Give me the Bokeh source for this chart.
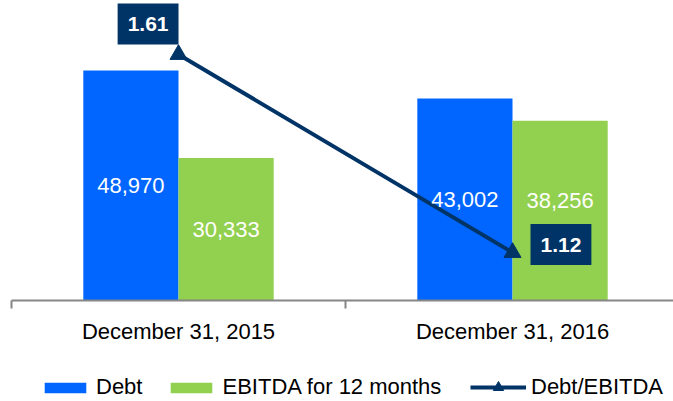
from bokeh.plotting import figure
from bokeh.layouts import column
from bokeh.models import (Range1d, FixedTicker, ColumnDataSource, LabelSet, Label,
                          Legend, LegendItem)
from bokeh.core.properties import value
from bokeh.embed import file_html
from bokeh.resources import INLINE

# ---- data ----
categories = ["December 31, 2015", "December 31, 2016"]
debt = [48970, 43002]
ebitda = [30333, 38256]
ratio = [1.61, 1.12]
debt_labels = ["48,970", "43,002"]
ebitda_labels = ["30,333", "38,256"]
ratio_labels = ["1.61", "1.12"]
series_names = ["Debt", "EBITDA for 12 months", "Debt/EBITDA"]

# ---- style ----
BLUE = "#0066FF"
GREEN = "#92D050"
NAVY = "#003366"
AXIS_GREY = "#868686"
FONT = "Liberation Sans"
FS = "22px"
BAR_W = 0.285
DODGE = 0.1425

xc = [i + 0.5 for i in range(len(categories))]
x_debt = [v - DODGE for v in xc]
x_ebit = [v + DODGE for v in xc]

src = ColumnDataSource(dict(
    xc=xc, x_debt=x_debt, x_ebit=x_ebit,
    debt=debt, ebitda=ebitda, ratio=ratio,
    debt_mid=[v / 2 for v in debt], ebit_mid=[v / 2 for v in ebitda],
    debt_lab=debt_labels, ebit_lab=ebitda_labels,
    ebit_off=[0, 10],
))

p = figure(width=673, height=360, output_backend="svg", toolbar_location=None,
           x_range=Range1d(0, 1.982), y_range=Range1d(0, 63873),
           y_axis_location=None,
           min_border_left=11, min_border_right=0, min_border_top=0,
           min_border_bottom=60)
p.extra_y_ranges = {"ratio": Range1d(1.0012, 1.7436)}
p.outline_line_color = None
p.grid.visible = False

bar_style_debt = dict(fill_color=BLUE, line_color=None)
bar_style_ebit = dict(fill_color=GREEN, line_color=None)
line_style = dict(line_color=NAVY, line_width=4)
mark_style = dict(marker="triangle", size=17, fill_color=NAVY, line_color=NAVY)

p.vbar(x="x_debt", top="debt", width=BAR_W, source=src, **bar_style_debt)
p.vbar(x="x_ebit", top="ebitda", width=BAR_W, source=src, **bar_style_ebit)
p.line(x="xc", y="ratio", source=src, y_range_name="ratio", **line_style)
p.scatter(x="xc", y="ratio", source=src, y_range_name="ratio", **mark_style)

p.add_layout(LabelSet(x="x_debt", y="debt_mid", text="debt_lab", source=src,
                      text_align="center", text_baseline="middle",
                      text_font=value(FONT), text_font_size=value(FS),
                      text_color="white"))
p.add_layout(LabelSet(x="x_ebit", y="ebit_mid", text="ebit_lab", source=src,
                      y_offset="ebit_off",
                      text_align="center", text_baseline="middle",
                      text_font=value(FONT), text_font_size=value(FS),
                      text_color="white"))

lab_style = dict(text_font=FONT, text_font_size="21px", text_font_style="bold",
                 text_color="white", background_fill_color=NAVY,
                 padding=dict(left=10, right=10, top=14, bottom=13),
                 y_range_name="ratio")
p.add_layout(Label(x=xc[0], y=ratio[0], text=ratio_labels[0],
                   text_align="right", text_baseline="bottom",
                   x_offset=0, y_offset=10, **lab_style))
p.add_layout(Label(x=xc[1], y=ratio[1], text=ratio_labels[1],
                   text_align="left", text_baseline="middle",
                   x_offset=18, y_offset=8, **lab_style))

ax = p.xaxis[0]
ax.ticker = FixedTicker(ticks=xc, minor_ticks=[0, 1, 2])
ax.major_label_overrides = {xc[i]: categories[i] for i in range(len(categories))}
ax.major_tick_line_color = None
ax.major_tick_out = 8
ax.major_tick_in = 0
ax.minor_tick_line_color = AXIS_GREY
ax.minor_tick_line_width = 2
ax.minor_tick_out = 8
ax.minor_tick_in = 0
ax.axis_line_color = AXIS_GREY
ax.axis_line_width = 2
ax.major_label_standoff = 10
ax.major_label_text_font = FONT
ax.major_label_text_font_size = FS
ax.major_label_text_color = "black"

# ---- legend strip (its glyph renderers sit outside the visible range) ----
lg = figure(width=673, height=41, output_backend="svg", toolbar_location=None,
            x_range=Range1d(0, 1), y_range=Range1d(0, 1),
            x_axis_location=None, y_axis_location=None,
            min_border_left=0, min_border_right=0, min_border_top=0,
            min_border_bottom=0)
lg.outline_line_color = None
lg.grid.visible = False
off = ColumnDataSource(dict(x=[-5, -4], y=[-5, -4]))
l_debt = lg.vbar(x="x", top="y", width=0.1, source=off, **bar_style_debt)
l_ebit = lg.vbar(x="x", top="y", width=0.1, source=off, **bar_style_ebit)
l_line = lg.line(x="x", y="y", source=off, **line_style)
l_mark = lg.scatter(x="x", y="y", source=off, **mark_style)

leg_common = dict(orientation="horizontal",
                  label_text_font=FONT, label_text_font_size=FS,
                  label_text_color="black", label_standoff=5,
                  padding=0, margin=0, border_line_color=None,
                  background_fill_alpha=0)
legend_bars = Legend(items=[
    LegendItem(label=series_names[0], renderers=[l_debt], index=0),
    LegendItem(label=series_names[1], renderers=[l_ebit], index=0),
], location=(28, 1), glyph_width=52, glyph_height=13, spacing=23, **leg_common)
legend_line = Legend(items=[
    LegendItem(label=series_names[2], renderers=[l_line, l_mark], index=0),
], location=(459, 1), glyph_width=56, glyph_height=26, **leg_common)
lg.add_layout(legend_bars, "center")
lg.add_layout(legend_line, "center")

layout = column(p, lg, spacing=0)
open("out.html", "w").write(file_html(layout, INLINE))
